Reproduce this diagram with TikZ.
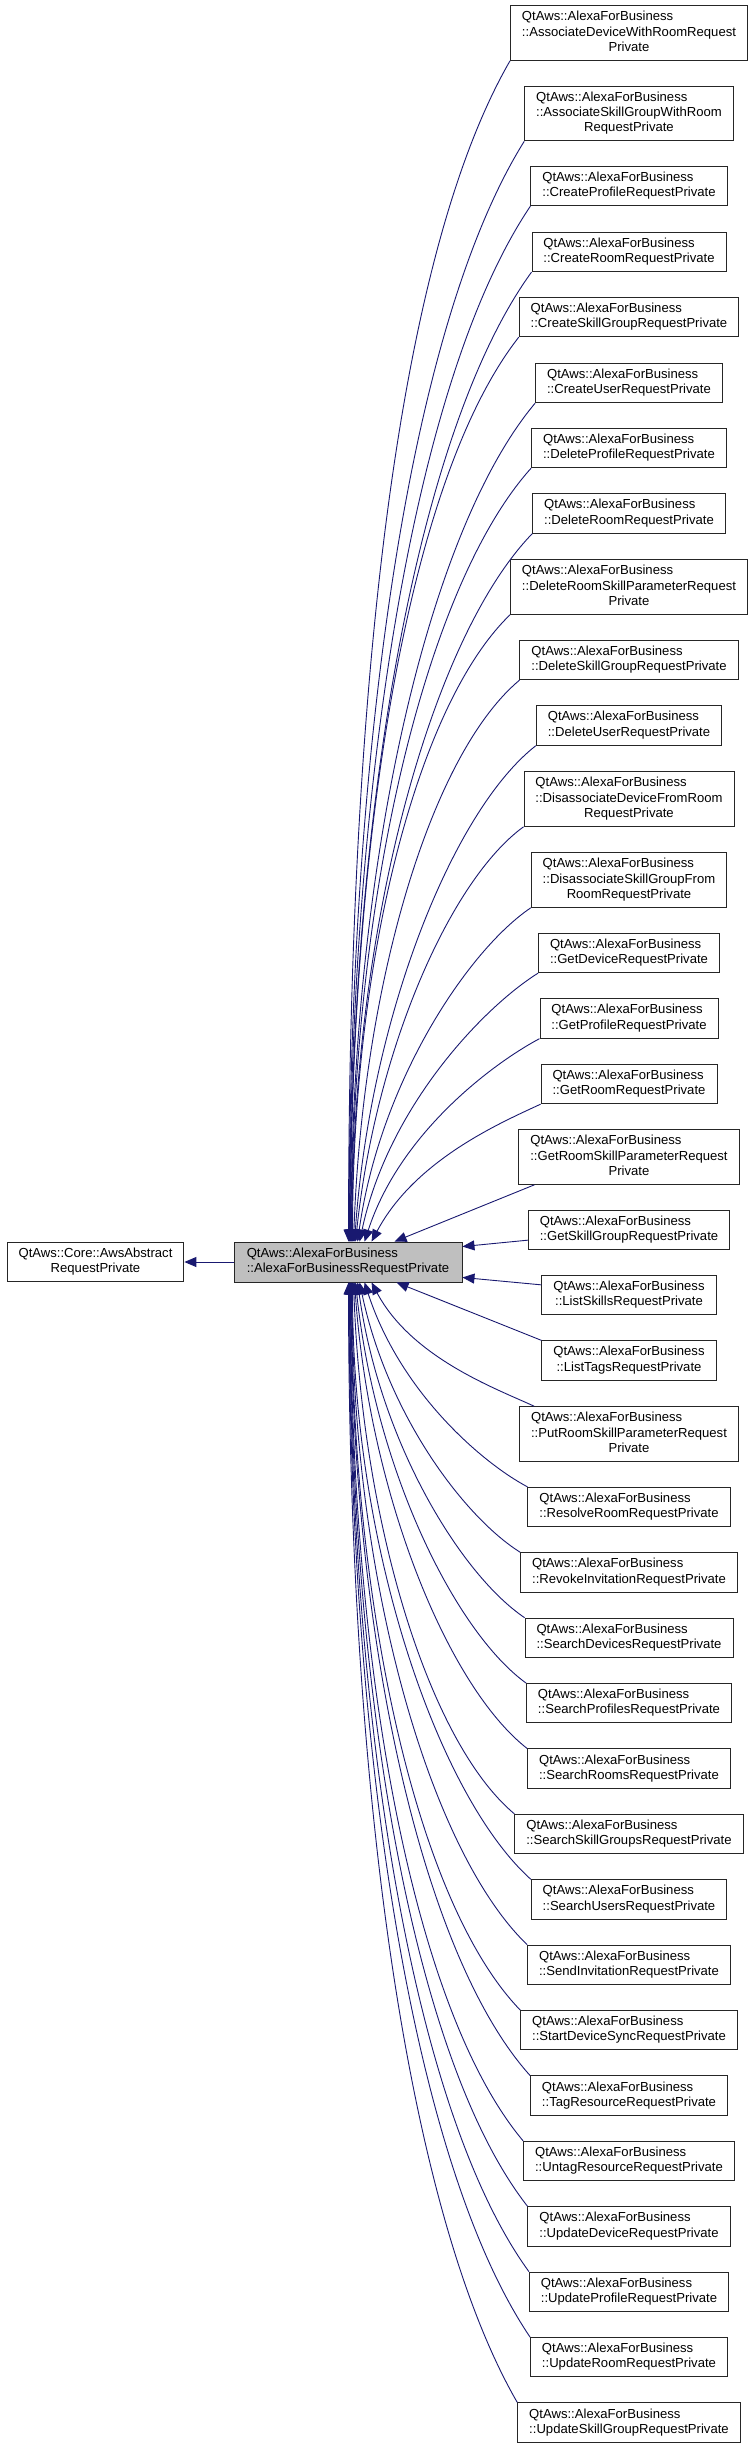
\documentclass[tikz,border=0pt]{standalone}
\usepackage{fontspec}
\setmainfont{Liberation Sans}
\usetikzlibrary{arrows.meta}
\definecolor{edgec}{HTML}{191970}
\definecolor{basefill}{HTML}{BFBFBF}
\newcommand{\Q}{QtAws::AlexaForBusiness}
\newcommand{\tl}[2]{\begin{tabular}{@{}l@{}}#1\\\multicolumn{1}{@{}c@{}}{#2}\end{tabular}}
\newcommand{\thl}[3]{\begin{tabular}{@{}l@{}}#1\\#2\\\multicolumn{1}{@{}c@{}}{#3}\end{tabular}}
\newcommand{\te}[6]{\draw[edge] (#1.south west) .. controls +(#3:#5pt) and +(#4:#6pt) .. ([xshift=#2pt]base.north west);}
\newcommand{\be}[6]{\draw[edge] (#1.north west) .. controls +(#3:#5pt) and +(#4:#6pt) .. ([xshift=#2pt]base.south west);}
\tikzset{
  box/.style={draw=black!85, line width=0.9pt, rectangle, inner xsep=11.5pt, inner ysep=4.4pt,
    font=\fontsize{13.1}{15.3}\selectfont, anchor=center},
  edge/.style={draw=edgec, line width=0.9pt, -{Triangle[length=12pt,width=10pt]}, fill=none}
}
\begin{document}
\begin{tikzpicture}[x=1pt,y=1pt]
\useasboundingbox (0,0) rectangle (755,-2447);
\node[box, fill=basefill, minimum width=228pt, minimum height=40pt, inner xsep=0pt] (base) at (348,-1262) {\tl{\Q}{::AlexaForBusinessRequestPrivate}};
\node[box] (core) at (95.5,-1262) {\tl{QtAws::Core::AwsAbstract}{RequestPrivate}};
\draw[edge] (base.west) -- (core.east);

\node[box] (c1) at (629,-33) {\thl{\Q}{::AssociateDeviceWithRoomRequest}{Private}};
\node[box] (c2) at (629,-113.5) {\thl{\Q}{::AssociateSkillGroupWithRoom}{RequestPrivate}};
\node[box] (c3) at (629,-186) {\tl{\Q}{::CreateProfileRequestPrivate}};
\node[box] (c4) at (629,-252) {\tl{\Q}{::CreateRoomRequestPrivate}};
\node[box] (c5) at (629,-317) {\tl{\Q}{::CreateSkillGroupRequestPrivate}};
\node[box] (c6) at (629,-383) {\tl{\Q}{::CreateUserRequestPrivate}};
\node[box] (c7) at (629,-448) {\tl{\Q}{::DeleteProfileRequestPrivate}};
\node[box] (c8) at (629,-513.5) {\tl{\Q}{::DeleteRoomRequestPrivate}};
\node[box] (c9) at (629,-587) {\thl{\Q}{::DeleteRoomSkillParameterRequest}{Private}};
\node[box] (c10) at (629,-660) {\tl{\Q}{::DeleteSkillGroupRequestPrivate}};
\node[box] (c11) at (629,-725.5) {\tl{\Q}{::DeleteUserRequestPrivate}};
\node[box] (c12) at (629,-799) {\thl{\Q}{::DisassociateDeviceFromRoom}{RequestPrivate}};
\node[box] (c13) at (629,-880) {\thl{\Q}{::DisassociateSkillGroupFrom}{RoomRequestPrivate}};
\node[box] (c14) at (629,-953) {\tl{\Q}{::GetDeviceRequestPrivate}};
\node[box] (c15) at (629,-1018.5) {\tl{\Q}{::GetProfileRequestPrivate}};
\node[box] (c16) at (629,-1084) {\tl{\Q}{::GetRoomRequestPrivate}};
\node[box] (c17) at (629,-1157) {\thl{\Q}{::GetRoomSkillParameterRequest}{Private}};
\node[box] (c18) at (629,-1230) {\tl{\Q}{::GetSkillGroupRequestPrivate}};
\node[box] (c19) at (629,-1295) {\tl{\Q}{::ListSkillsRequestPrivate}};
\node[box] (c20) at (629,-1360.5) {\tl{\Q}{::ListTagsRequestPrivate}};
\node[box] (c21) at (629,-1434) {\thl{\Q}{::PutRoomSkillParameterRequest}{Private}};
\node[box] (c22) at (629,-1507) {\tl{\Q}{::ResolveRoomRequestPrivate}};
\node[box] (c23) at (629,-1572.4) {\tl{\Q}{::RevokeInvitationRequestPrivate}};
\node[box] (c24) at (629,-1637.8) {\tl{\Q}{::SearchDevicesRequestPrivate}};
\node[box] (c25) at (629,-1703.2) {\tl{\Q}{::SearchProfilesRequestPrivate}};
\node[box] (c26) at (629,-1768.6) {\tl{\Q}{::SearchRoomsRequestPrivate}};
\node[box] (c27) at (629,-1834) {\tl{\Q}{::SearchSkillGroupsRequestPrivate}};
\node[box] (c28) at (629,-1899.4) {\tl{\Q}{::SearchUsersRequestPrivate}};
\node[box] (c29) at (629,-1964.8) {\tl{\Q}{::SendInvitationRequestPrivate}};
\node[box] (c30) at (629,-2030.2) {\tl{\Q}{::StartDeviceSyncRequestPrivate}};
\node[box] (c31) at (629,-2095.6) {\tl{\Q}{::TagResourceRequestPrivate}};
\node[box] (c32) at (629,-2161) {\tl{\Q}{::UntagResourceRequestPrivate}};
\node[box] (c33) at (629,-2226.4) {\tl{\Q}{::UpdateDeviceRequestPrivate}};
\node[box] (c34) at (629,-2291.8) {\tl{\Q}{::UpdateProfileRequestPrivate}};
\node[box] (c35) at (629,-2357.2) {\tl{\Q}{::UpdateRoomRequestPrivate}};
\node[box] (c36) at (629,-2422.6) {\tl{\Q}{::UpdateSkillGroupRequestPrivate}};

\te{c1}{115}{240}{90}{239}{513}
\te{c2}{115.5}{238}{90}{223}{479}
\te{c3}{116}{236}{90}{210}{452}
\te{c4}{116.5}{234}{90}{197}{424}
\te{c5}{117}{232}{90}{184}{396}
\te{c6}{117.5}{230}{90}{171}{369}
\te{c7}{118}{228}{90}{159}{341}
\te{c8}{118.5}{226}{90}{146}{314}
\te{c9}{119}{224}{90}{130}{280}
\te{c10}{120}{220}{88}{118}{253}
\te{c11}{121}{218}{86}{105}{226}
\te{c12}{122}{216}{84}{90}{194}
\te{c13}{124}{214}{82}{75}{162}
\te{c14}{126}{212}{78}{64}{138}
\te{c15}{131}{208}{72}{53}{114}
\te{c16}{138}{205}{62}{43}{93}
\draw[edge] ([xshift=16pt]c17.south west) -- ([xshift=161pt]base.north west);
\draw[edge] ([yshift=10pt]c18.south west) -- ([yshift=-5pt]base.north east);
\draw[edge] ([yshift=-10pt]c19.north west) -- ([yshift=5pt]base.south east);
\draw[edge] (c20.north west) -- ([xshift=163pt]base.south west);
\draw[edge] ([xshift=15pt]c21.north west) .. controls +(155:40pt) and +(298:86pt) .. ([xshift=138pt]base.south west);
\be{c22}{131}{152}{288}{53}{114}
\be{c23}{126}{148}{282}{64}{138}
\be{c24}{124}{146}{278}{76}{163}
\be{c25}{122}{144}{276}{88}{188}
\be{c26}{121}{142}{274}{100}{214}
\be{c27}{120}{140}{272}{112}{241}
\be{c28}{119}{138}{270}{124}{267}
\be{c29}{118.5}{136}{270}{137}{295}
\be{c30}{118}{134}{270}{150}{322}
\be{c31}{117.5}{132}{270}{163}{350}
\be{c32}{117}{130}{270}{175}{377}
\be{c33}{116.5}{128}{270}{188}{405}
\be{c34}{116}{126}{270}{201}{432}
\be{c35}{115.5}{124}{270}{214}{460}
\be{c36}{115}{120}{270}{227}{488}
\end{tikzpicture}
\end{document}
